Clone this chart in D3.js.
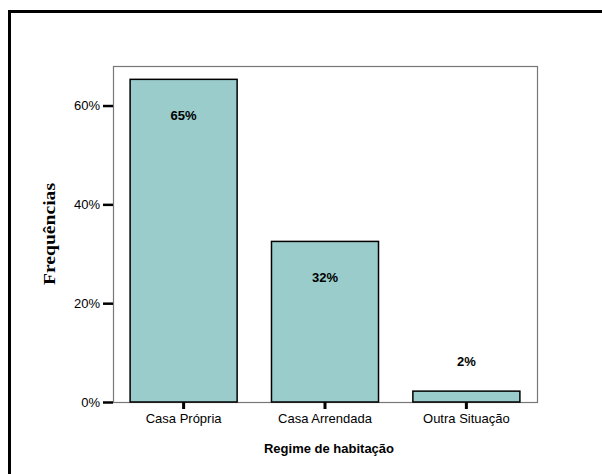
<!DOCTYPE html>
<html>
<head>
<meta charset="utf-8">
<script src="https://cdn.jsdelivr.net/npm/d3@7"></script>
<style>
  body { margin:0; background:#fff; }
  svg { display:block; }
  text { font-family: "Liberation Sans", Arial, sans-serif; fill:#000; }
</style>
</head>
<body>
<svg id="chart" width="602" height="474"></svg>
<script>
// dados
var categorias = ["Casa Própria", "Casa Arrendada", "Outra Situação"]
var valores = [0.653, 0.325, 0.022]
var rotulos = ["65%", "32%", "2%"]
var ticksY = [0, 0.2, 0.4, 0.6]

var svg = d3.select("#chart")

// moldura exterior (sai da janela a direita e em baixo)
svg.append("rect")
    .attr("x", 9.5).attr("y", 11.5)
    .attr("width", 640).attr("height", 520)
    .attr("fill", "none").attr("stroke", "#000").attr("stroke-width", 3)

var plot = {left:113, right:537, top:66, bottom:402}

var x = d3.scaleBand().domain(categorias).range([plot.left, plot.right]).paddingInner(0.243).paddingOuter(0.121)
var y = d3.scaleLinear().domain([0, 0.68]).range([plot.bottom, plot.top])

// caixa do grafico
svg.append("rect")
    .attr("x", plot.left + 0.5).attr("y", plot.top + 0.5)
    .attr("width", plot.right - plot.left).attr("height", plot.bottom - plot.top)
    .attr("fill", "none").attr("stroke", "#777").attr("stroke-width", 1.2)

// barras
svg.selectAll("rect.bar")
    .data(valores)
    .enter().append("rect")
    .attr("class", "bar")
    .attr("x", function(d, i){ return x(categorias[i]) })
    .attr("y", function(d){ return y(d) })
    .attr("width", x.bandwidth())
    .attr("height", function(d){ return y(0) - y(d) })
    .attr("fill", "#9acccc")
    .attr("stroke", "#000").attr("stroke-width", 1.5)

// rotulos das barras
svg.selectAll("text.lbl")
    .data(valores)
    .enter().append("text")
    .attr("class", "lbl")
    .attr("x", function(d, i){ return x(categorias[i]) + x.bandwidth()/2 })
    .attr("y", function(d){ return (y(0) - y(d) > 60) ? y(d) + 41 : y(d) - 25 })
    .attr("text-anchor", "middle")
    .style("font-size", "13px").style("font-weight", "bold")
    .text(function(d, i){ return rotulos[i] })

// eixo Y
var yAxis = svg.append("g")
    .attr("transform", "translate(" + plot.left + ",0)")
    .call(d3.axisLeft(y).tickValues(ticksY).tickFormat(d3.format(".0%")).tickSize(10).tickPadding(3))
yAxis.select(".domain").remove()
yAxis.selectAll("line").attr("stroke", "#000").attr("stroke-width", 2.5)
yAxis.selectAll("text").style("font-size", "13px").style("font-family", "Liberation Sans, Arial, sans-serif")

// eixo X
var xAxis = svg.append("g")
    .attr("transform", "translate(0," + plot.bottom + ")")
    .call(d3.axisBottom(x).tickSize(7).tickPadding(5))
xAxis.select(".domain").remove()
xAxis.selectAll("line").attr("stroke", "#000").attr("stroke-width", 3)
xAxis.selectAll("text").style("font-size", "13px").style("font-family", "Liberation Sans, Arial, sans-serif")

// titulos
svg.append("text")
    .attr("x", (plot.left + plot.right)/2 + 4).attr("y", 453)
    .attr("text-anchor", "middle")
    .style("font-size", "13px").style("font-weight", "bold")
    .text("Regime de habitação")

svg.append("text")
    .attr("transform", "translate(55,234)rotate(-90)")
    .attr("text-anchor", "middle")
    .attr("textLength", 102).attr("lengthAdjust", "spacingAndGlyphs")
    .style("font-family", "Liberation Serif, Times New Roman, serif")
    .style("font-size", "16px").style("font-weight", "bold")
    .text("Frequências")
</script>
</body>
</html>
